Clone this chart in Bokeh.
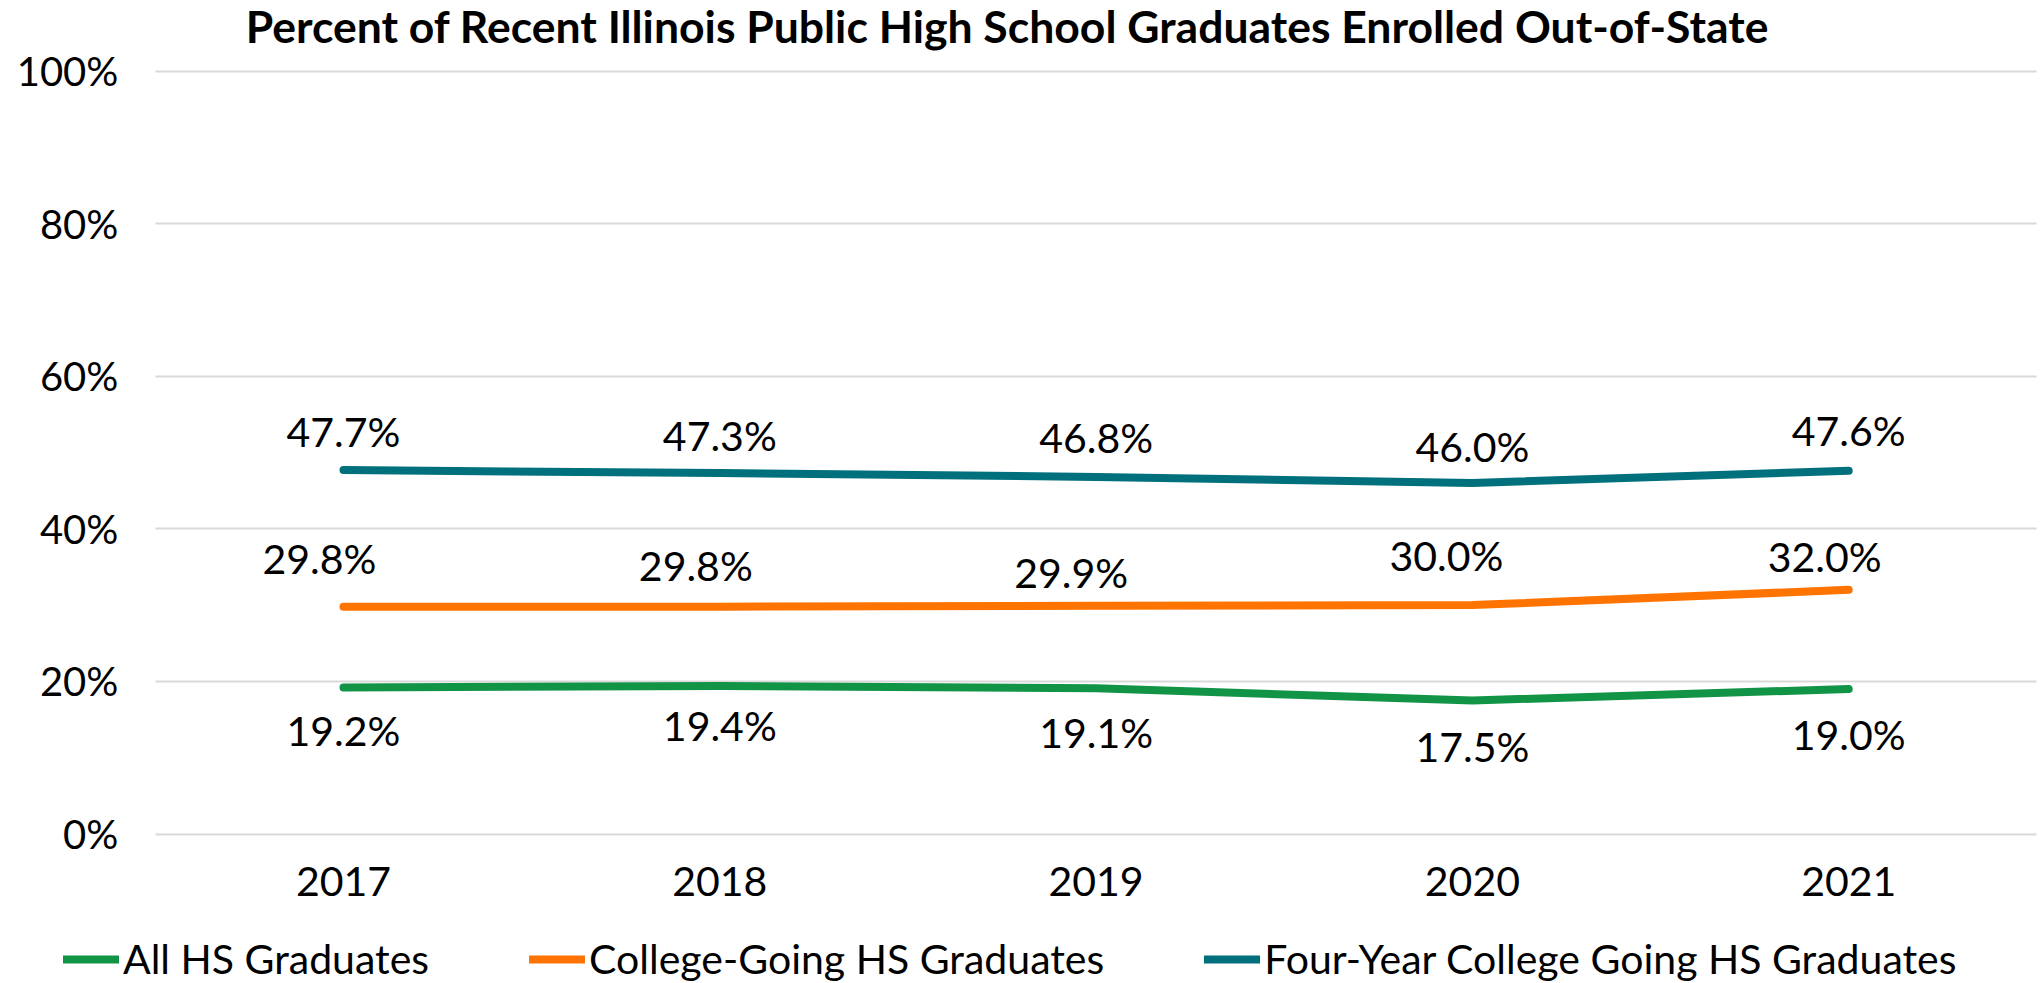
from bokeh.plotting import figure
from bokeh.models import (Range1d, LabelSet, Label, ColumnDataSource, Legend,
                          LegendItem, PrintfTickFormatter, FixedTicker)
from bokeh.core.properties import value
from bokeh.embed import file_html
from bokeh.resources import INLINE

# ---- data ----
years = [2017, 2018, 2019, 2020, 2021]
all_hs = [19.2, 19.4, 19.1, 17.5, 19.0]
college_going = [29.8, 29.8, 29.9, 30.0, 32.0]
four_year = [47.7, 47.3, 46.8, 46.0, 47.6]
series_names = ["All HS Graduates", "College-Going HS Graduates",
                "Four-Year College Going HS Graduates"]
y_ticks = [0, 20, 40, 60, 80, 100]
title_text = "Percent of Recent Illinois Public High School Graduates Enrolled Out-of-State"

# ---- layout / styling ----
W, H = 2042, 983
X0_PX, X_STEP = 343.0, 376.3      # pixel of first category, pixels per year
Y0_PX, Y_UNIT = 833.5, 7.63       # pixel of 0 %, pixels per percent
colors = ["#129447", "#FF7300", "#00707C"]
FONT = "Lato"
FS = "41px"
FS_Y = "40px"
label_dx = [[0, 0, 0, 0, 0], [-24, -24, -25, -26, -24], [0, 0, 0, 0, 0]]
label_dy = [[-43, -40, -44, -46, -45], [48, 41, 33, 50, 33], [39, 38, 39, 37, 40]]

x_first = years[0]
x_range = Range1d(x_first - X0_PX / X_STEP, x_first + (W - X0_PX) / X_STEP)
y_range = Range1d(-(H - Y0_PX) / Y_UNIT, Y0_PX / Y_UNIT)

p = figure(width=W, height=H, x_range=x_range, y_range=y_range,
           output_backend="svg", toolbar_location=None,
           min_border_left=0, min_border_right=0,
           min_border_top=0, min_border_bottom=0)
p.outline_line_color = None
p.background_fill_color = "white"
p.border_fill_color = "white"

half = 0.5
p.xgrid.grid_line_color = None
p.ygrid.ticker = FixedTicker(ticks=y_ticks)
p.ygrid.grid_line_color = "#D9D9D9"
p.ygrid.grid_line_width = 2
grid_props = p.ygrid[0].properties()
if "cross_bounds" in grid_props:
    p.ygrid.cross_bounds = (years[0] - half, years[-1] + half)
else:
    p.ygrid.grid_line_color = None
    p.segment(x0=[years[0] - half] * len(y_ticks), y0=y_ticks,
              x1=[years[-1] + half] * len(y_ticks), y1=y_ticks,
              line_color="#D9D9D9", line_width=2)

p.yaxis.ticker = FixedTicker(ticks=y_ticks)
p.yaxis.formatter = PrintfTickFormatter(format="%d%%")
p.xaxis.ticker = FixedTicker(ticks=years)
p.xaxis.formatter = PrintfTickFormatter(format="%d")
p.yaxis.fixed_location = years[0] - half
p.xaxis.fixed_location = 0
for ax in (p.xaxis[0], p.yaxis[0]):
    ax.axis_line_color = None
    ax.major_tick_line_color = None
    ax.minor_tick_line_color = None
    ax.major_tick_out = 0
    ax.major_tick_in = 0
    ax.minor_tick_out = 0
    ax.major_label_text_font = FONT
    ax.major_label_text_color = "black"
p.xaxis.major_label_text_font_size = FS
p.yaxis.major_label_text_font_size = FS_Y
p.yaxis.major_label_standoff = 37
p.xaxis.major_label_standoff = 33

series = [all_hs, college_going, four_year]
renderers = []
for i, vals in enumerate(series):
    src = ColumnDataSource(dict(x=years, y=vals,
                                txt=["%.1f%%" % v for v in vals],
                                dx=label_dx[i], dy=label_dy[i]))
    r = p.line("x", "y", source=src, line_color=colors[i], line_width=8,
               line_cap="round", line_join="round")
    renderers.append(r)
    labels = LabelSet(x="x", y="y", text="txt", source=src,
                      x_offset="dx", y_offset="dy",
                      text_align="center", text_baseline="middle",
                      text_font=value(FONT), text_font_size=value(FS),
                      text_color="black")
    p.add_layout(labels)

title = Label(x=1007, y=H - 25, x_units="screen", y_units="screen",
              text=title_text, text_align="center", text_baseline="middle",
              text_font=FONT, text_font_style="bold", text_font_size="44.5px",
              text_color="black")
p.add_layout(title)

legend = Legend(items=[LegendItem(label=series_names[i], renderers=[renderers[i]])
                       for i in range(3)],
                orientation="horizontal", location=(63, 0),
                glyph_width=56, glyph_height=44, label_height=44,
                label_standoff=4, spacing=100, padding=0, margin=0,
                border_line_color=None, background_fill_alpha=0,
                label_text_font=FONT, label_text_font_size=FS,
                label_text_color="black")
p.add_layout(legend)

open("out.html", "w").write(file_html(p, INLINE))
